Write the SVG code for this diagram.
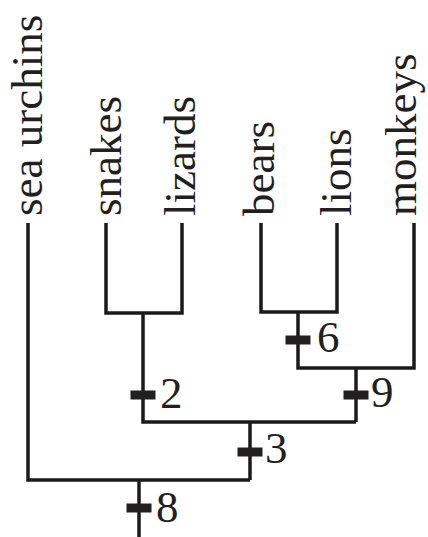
<svg xmlns="http://www.w3.org/2000/svg" width="428" height="537" viewBox="0 0 428 537">
<style>
.t{font-family:"Liberation Serif","Times New Roman",serif;font-size:45px;fill:#231f20}
.e{fill:none;stroke:#1a1a1a;stroke-width:3.5;stroke-linejoin:miter;stroke-linecap:butt}
.k{fill:#231f20}
</style>
<defs>
<rect id="tick" x="-12.5" y="-4.5" width="25" height="9"/>
</defs>
<g id="connectors">
<polyline class="e" points="28,223 28,480 250,480"/>
<polyline class="e" points="139,480 139,537"/>
<polyline class="e" points="106,223 106,313 182,313 182,223"/>
<polyline class="e" points="143,313 143,422 356,422"/>
<polyline class="e" points="250,422 250,480"/>
<polyline class="e" points="261,223 261,312 337,312 337,223"/>
<polyline class="e" points="298,312 298,368 414,368 414,223"/>
<polyline class="e" points="356,368 356,422"/>
</g>
<g id="sea-urchins"><text class="t" transform="translate(42,216) rotate(-90)">sea urchins</text></g>
<g id="snakes"><text class="t" transform="translate(121,216) rotate(-90)">snakes</text></g>
<g id="lizards"><text class="t" transform="translate(195,216) rotate(-90)">lizards</text></g>
<g id="bears"><text class="t" transform="translate(274,216) rotate(-90)">bears</text></g>
<g id="lions"><text class="t" transform="translate(351,216) rotate(-90)">lions</text></g>
<g id="monkeys"><text class="t" transform="translate(416,216) rotate(-90)">monkeys</text></g>
<g id="mark-2"><use href="#tick" class="k" x="143" y="395"/><text class="t" x="160" y="408">2</text></g>
<g id="mark-3"><use href="#tick" class="k" x="250" y="452"/><text class="t" x="265" y="463">3</text></g>
<g id="mark-8"><use href="#tick" class="k" x="139" y="508"/><text class="t" x="156" y="522">8</text></g>
<g id="mark-6"><use href="#tick" class="k" x="298" y="340"/><text class="t" x="317" y="352">6</text></g>
<g id="mark-9"><use href="#tick" class="k" x="356" y="395"/><text class="t" x="371" y="407">9</text></g>
</svg>
